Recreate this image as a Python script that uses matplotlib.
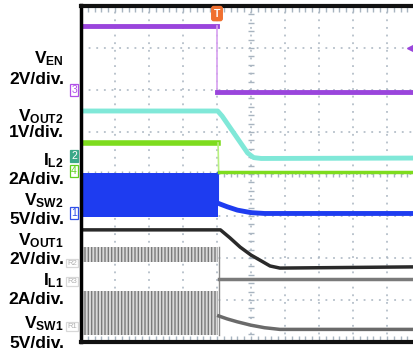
import numpy as np
import matplotlib
matplotlib.use("Agg")
import matplotlib.pyplot as plt

plt.rcParams['font.family'] = ['Liberation Sans', 'DejaVu Sans']
plt.rcParams['mathtext.fontset'] = 'custom'
plt.rcParams['mathtext.bf'] = 'Liberation Sans:bold'
plt.rcParams['mathtext.rm'] = 'Liberation Sans:bold'
plt.rcParams['hatch.linewidth'] = 1.0

# scope screen units: x in time divisions (0..10), y in vertical divisions (0..8)
t_event = 4.0

ven_t = [0, 4.0, 4.0, 10]
ven_v = [7.52, 7.52, 5.95, 5.95]

vout2_t = [0, 4.02, 4.15, 4.9, 5.08, 5.3, 10]
vout2_v = [5.5, 5.5, 5.38, 4.5, 4.39, 4.37, 4.38]

il2_t = [0, 4.03, 4.05, 10]
il2_v = [4.74, 4.74, 4.05, 4.05]

vsw2_band = (2.98, 4.02)
vsw2_t = [4.04, 4.3, 4.6, 5.0, 5.4, 10]
vsw2_v = [3.30, 3.22, 3.14, 3.08, 3.06, 3.06]

vout1_t = [0, 4.1, 4.38, 4.68, 5.0, 5.26, 5.56, 5.85, 10]
vout1_v = [2.67, 2.67, 2.48, 2.26, 2.07, 1.95, 1.81, 1.76, 1.79]

il1_band = (1.90, 2.26)
il1_t = [4.05, 10]
il1_v = [1.5, 1.5]

vsw1_band = (0.17, 1.21)
vsw1_t = [4.05, 4.3, 4.6, 5.0, 5.4, 5.85, 10]
vsw1_v = [0.62, 0.55, 0.48, 0.40, 0.34, 0.30, 0.30]

# labels: (text, y pixel center)
labels = [
    (r'$\mathbf{V_{EN}}$', 59),
    ('2V/div.', 80),
    (r'$\mathbf{V_{OUT2}}$', 117),
    ('1V/div.', 133),
    (r'$\mathbf{I_{L2}}$', 161),
    ('2A/div.', 180),
    (r'$\mathbf{V_{SW2}}$', 201),
    ('5V/div.', 220),
    (r'$\mathbf{V_{OUT1}}$', 241),
    ('2V/div.', 260),
    (r'$\mathbf{I_{L1}}$', 281),
    ('2A/div.', 300),
    (r'$\mathbf{V_{SW1}}$', 324),
    ('5V/div.', 344),
]

# channel ground markers: (text, level in divisions, edge color, face color, text color, size)
markers = [
    ('3', 6.0, '#b050e8', 'white', '#b050e8', 7.5),
    ('2', 4.43, '#3aa888', '#3aa888', 'white', 7.5),
    ('4', 4.07, '#60d020', 'white', '#60d020', 7.5),
    ('1', 3.07, '#3050e8', 'white', '#3050e8', 7.5),
    ('R2', 1.88, '#d8d8d8', 'white', '#b0b0b0', 5.5),
    ('R3', 1.45, '#d8d8d8', 'white', '#b0b0b0', 5.5),
    ('R1', 0.36, '#d8d8d8', 'white', '#b0b0b0', 5.5),
]

W, H = 414, 355
fig = plt.figure(figsize=(W / 100, H / 100), dpi=100)
fig.patch.set_facecolor('white')
x0, x1, ytop, ybot = 81, 421, 6, 342
ax = fig.add_axes([x0 / W, (H - ybot) / H, (x1 - x0) / W, (ybot - ytop) / H])
ax.set_xlim(0, 10)
ax.set_ylim(0, 8)
ax.axis('off')
ax.set_facecolor('white')

# graticule
gcol = '#a8b4c0'
for gx in range(1, 10):
    ax.axvline(gx, color=gcol, lw=1.1, ls=(0, (1.2, 3.8)), zorder=1)
for gy in range(1, 8):
    ax.axhline(gy, color=gcol, lw=1.1, ls=(0, (1.2, 3.8)), zorder=1)
ticks_x = np.arange(0, 10.01, 0.2)
ticks_y = np.arange(0, 8.01, 0.2)
ax.plot(ticks_x, np.full_like(ticks_x, 4), '|', color=gcol, ms=5, mew=1, zorder=1)
ax.plot(np.full_like(ticks_y, 5), ticks_y, '_', color=gcol, ms=5, mew=1, zorder=1)
ax.plot(ticks_x, np.full_like(ticks_x, 7.93), '|', color=gcol, ms=4, mew=1, zorder=1)
ax.plot(ticks_x, np.full_like(ticks_x, 0.07), '|', color=gcol, ms=4, mew=1, zorder=1)

# traces
ax.plot(ven_t[:2], ven_v[:2], color='#9a45dc', lw=3.5, zorder=5)
ax.plot(ven_t[1:3], ven_v[1:3], color='#d7a0f0', lw=1.2, zorder=5)
ax.plot(ven_t[2:], ven_v[2:], color='#9a45dc', lw=3.5, zorder=5)

ax.plot(vout2_t, vout2_v, color='#80e8d8', lw=3.5, zorder=5)
ax.plot(il2_t[:2], il2_v[:2], color='#7edc1e', lw=4, zorder=5)
ax.plot(il2_t[1:3], il2_v[1:3], color='#b8f080', lw=1.2, zorder=5)
ax.plot(il2_t[2:], il2_v[2:], color='#7edc1e', lw=2.5, zorder=5)

ax.fill_between([0, t_event + 0.03], vsw2_band[0], vsw2_band[1], color='#1e3cf0', lw=0, zorder=4)
ax.plot([vsw2_t[0], vsw2_t[0]], [vsw2_band[1], vsw2_v[0]], color='#1e3cf0', lw=1.5, zorder=4)
ax.plot(vsw2_t, vsw2_v, color='#1e3cf0', lw=3.5, zorder=5)

ax.plot(vout1_t, vout1_v, color='#2a2a2a', lw=2.5, zorder=6)

ax.fill_between([0, t_event + 0.03], il1_band[0], il1_band[1], facecolor='#d8d8d8',
                edgecolor='#7a7a7a', hatch='|' * 5, lw=0, zorder=4)
ax.plot(il1_t, il1_v, color='#7a7a7a', lw=2.5, zorder=5)

ax.fill_between([0, t_event + 0.03], vsw1_band[0], vsw1_band[1], facecolor='#d8d8d8',
                edgecolor='#7a7a7a', hatch='|' * 5, lw=0, zorder=4)
ax.plot([t_event + 0.05, t_event + 0.05], [vsw1_band[0], il1_band[1]], color='#8a8a8a', lw=1, zorder=4)
ax.plot(vsw1_t, vsw1_v, color='#6a6a6a', lw=2.5, zorder=5)

# screen border
ax.plot([0, 0], [0, 8.02], color='black', lw=2.5, clip_on=False, zorder=8)
ax.plot([0, 10], [8.0, 8.0], color='#111111', lw=3, clip_on=False, zorder=8)
ax.plot([0, 10], [0, 0], color='#111111', lw=3, clip_on=False, zorder=8)

# trigger marker and right edge marker
ax.text(t_event, 7.82, 'T', color='white', fontsize=7.5, fontweight='bold', ha='center', va='center',
        bbox=dict(boxstyle='round,pad=0.2', fc='#f07030', ec='#f07030'), zorder=9)
ax.plot([9.76], [7.0], marker='<', color='#9a45dc', ms=8, clip_on=False, zorder=9)

# labels
for txt, yc in labels:
    fig.text(64 / W, 1 - yc / H, txt, ha='right', va='center', fontsize=12.5,
             fontweight='bold', color='black')

for txt, lvl, ec, fc, tc, fs in markers:
    ax.text(-0.12, lvl, txt, ha='right', va='center', fontsize=fs, color=tc,
            bbox=dict(boxstyle='square,pad=0.12', fc=fc, ec=ec, lw=0.9), clip_on=False, zorder=9)

fig.savefig('out.png', dpi=100)
